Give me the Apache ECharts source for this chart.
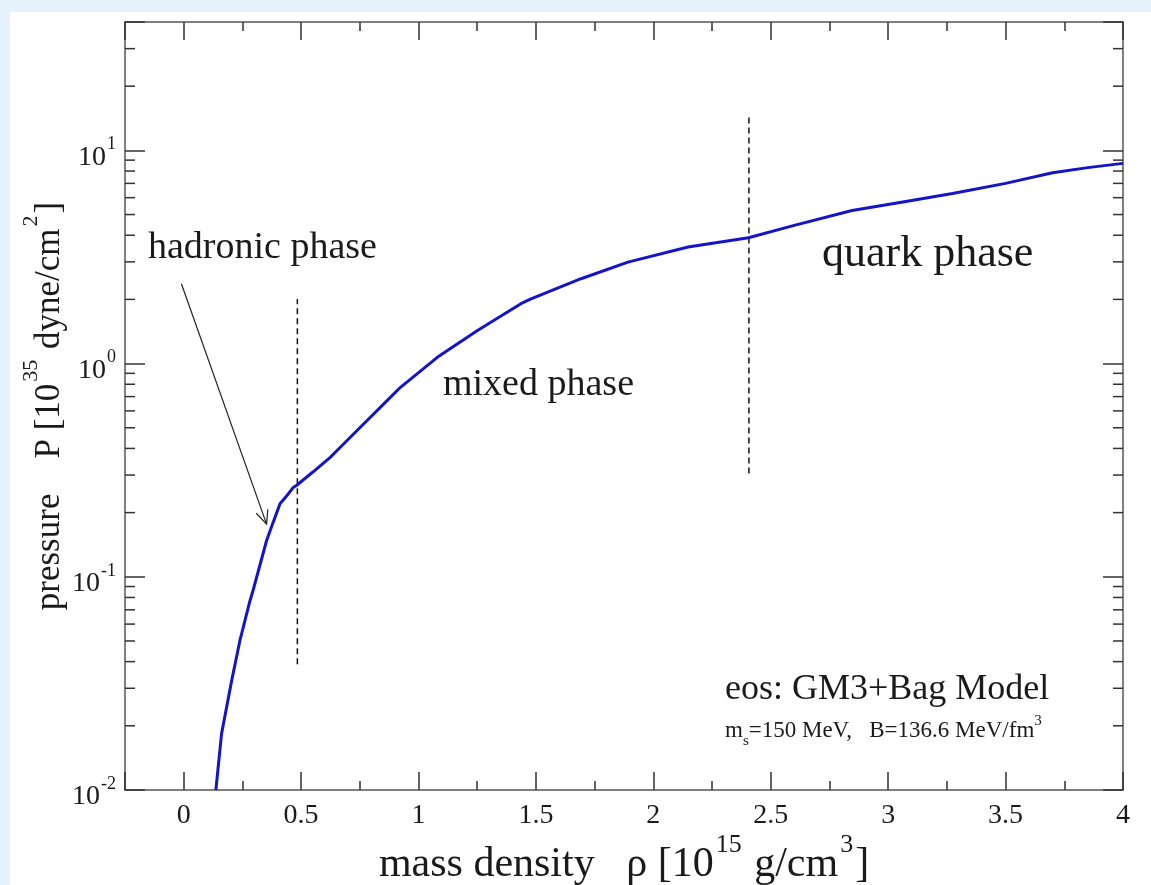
<!DOCTYPE html>
<html>
<head>
<meta charset="utf-8">
<title>pressure vs mass density</title>
<style>
  html, body { margin: 0; padding: 0; background: #fff; }
  #chart { width: 1151px; height: 885px; }
</style>
<script src="https://cdn.jsdelivr.net/npm/echarts@6/dist/echarts.min.js"></script>
</head>
<body>
<div id="chart"></div>
<script>
// 曲线数据 (rho in 1e15 g/cm^3, P in 1e35 dyne/cm^2)
const density = [0.137, 0.161, 0.204, 0.239, 0.282, 0.295, 0.353, 0.381, 0.41, 0.439, 0.466, 0.48,
  0.55, 0.624, 0.652, 0.75, 0.866, 0.923, 1.08, 1.251, 1.436, 1.479, 1.692, 1.892, 2.148, 2.405,
  2.6, 2.846, 3.05, 3.274, 3.5, 3.7, 3.85, 4.0];
const pressure = [0.01, 0.0183, 0.0325, 0.05, 0.077, 0.086, 0.148, 0.18, 0.22, 0.24, 0.262, 0.268,
  0.31, 0.363, 0.39, 0.5, 0.67, 0.774, 1.07, 1.43, 1.91, 2.01, 2.5, 2.99, 3.52, 3.89,
  4.45, 5.22, 5.7, 6.27, 7.0, 7.85, 8.3, 8.69];

// 相边界 (dashed)
const hadronMixedBoundary = [[0.484, 0.0389], [0.484, 2.01]];
const mixedQuarkBoundary = [[2.407, 0.305], [2.407, 14.3]];

// 箭头: start x, start y, end x, end y
const arrowLine = [[-0.0098, 2.37, 0.353, 0.1766]];

// 坐标轴
const X_MIN = -0.25, X_MAX = 4;
const Y_MIN = 0.01, Y_MAX = 40;
const minorYTicks = [0.02, 0.03, 0.04, 0.05, 0.06, 0.07, 0.08, 0.09,
  0.2, 0.3, 0.4, 0.5, 0.6, 0.7, 0.8, 0.9,
  2, 3, 4, 5, 6, 7, 8, 9, 20, 30];

const FONT = '"Liberation Serif", "DejaVu Serif", serif';
const INK = '#1a1a1a';
const AXIS = '#555';

const chart = echarts.init(document.getElementById('chart'), null, { renderer: 'canvas' });

function powerLabel(v) {
  const e = Math.round(Math.log10(v));
  if (Math.abs(Math.log10(v) - e) > 1e-6) return '';
  return '{b|10}{s|' + e + '}';
}

const yLabelRich = {
  b: { fontFamily: FONT, fontSize: 28, color: INK, verticalAlign: 'bottom', padding: [14, 0, 0, 0] },
  s: { fontFamily: FONT, fontSize: 18, color: INK, verticalAlign: 'top', padding: [6, 0, 0, 1] }
};

const baseX = {
  type: 'value', min: X_MIN, max: X_MAX, splitNumber: 8,
  axisLine: { onZero: false, lineStyle: { color: AXIS, width: 1.5 } },
  axisTick: { inside: true, length: 18, lineStyle: { color: '#333', width: 1.5 } },
  minorTick: { show: true, splitNumber: 2, length: 9, lineStyle: { color: '#333', width: 1.5 } },
  splitLine: { show: false }
};
const baseY = {
  type: 'log', min: Y_MIN, max: Y_MAX, logBase: 10,
  axisLine: { onZero: false, lineStyle: { color: AXIS, width: 1.5 } },
  axisTick: { inside: true, length: 20, lineStyle: { color: '#333', width: 1.5 } },
  splitLine: { show: false }
};

function tickMarks(params, api) {
  const p = api.coord([api.value(0), api.value(1)]);
  const cs = params.coordSys;
  const st = { stroke: '#333', lineWidth: 1.5 };
  return {
    type: 'group',
    children: [
      { type: 'line', shape: { x1: cs.x, y1: p[1], x2: cs.x + 10, y2: p[1] }, style: st },
      { type: 'line', shape: { x1: cs.x + cs.width, y1: p[1], x2: cs.x + cs.width - 10, y2: p[1] }, style: st }
    ]
  };
}

function arrow(params, api) {
  const a = api.coord([api.value(0), api.value(1)]);
  const b = api.coord([api.value(2), api.value(3)]);
  const ang = Math.atan2(b[1] - a[1], b[0] - a[0]);
  const L = 15, w = 0.42;
  const h1 = [b[0] - L * Math.cos(ang - w), b[1] - L * Math.sin(ang - w)];
  const h2 = [b[0] - L * Math.cos(ang + w), b[1] - L * Math.sin(ang + w)];
  const st = { stroke: '#222', lineWidth: 1.2, fill: null };
  return {
    type: 'group',
    children: [
      { type: 'line', shape: { x1: a[0], y1: a[1], x2: b[0], y2: b[1] }, style: st },
      { type: 'polyline', shape: { points: [h1, b, h2] }, style: st }
    ]
  };
}

const bg = '#e6f2fb';
function label(x, y, text, size) {
  return {
    type: 'text', x: x, y: y, silent: true,
    style: { text: text, font: size + 'px ' + FONT, fill: INK, textAlign: 'left', textVerticalAlign: 'middle', align: 'left', verticalAlign: 'middle' }
  };
}

chart.setOption({
  animation: false,
  backgroundColor: '#fff',
  grid: { left: 125, right: 28, top: 22, bottom: 95, containLabel: false, outerBoundsMode: 'none' },
  xAxis: [
    Object.assign({}, baseX, {
      position: 'bottom',
      name: '{t|mass density   ρ [10}{s|15}{t| g/cm}{s|3}{t|]}',
      nameLocation: 'middle', nameGap: 42, nameMoveOverlap: false,
      nameTextStyle: {
        fontFamily: FONT, fontSize: 42, color: INK,
        rich: {
          t: { fontFamily: FONT, fontSize: 42, color: INK, verticalAlign: 'bottom', padding: [12, 0, 0, 0] },
          s: { fontFamily: FONT, fontSize: 26, color: INK, verticalAlign: 'top', padding: [0, 2, 0, 2] }
        }
      },
      axisLabel: {
        margin: 12, fontFamily: FONT, fontSize: 28, color: INK,
        formatter: v => (v < -0.01 ? '' : String(v))
      }
    }),
    Object.assign({}, baseX, { position: 'top', axisLabel: { show: false } })
  ],
  yAxis: [
    Object.assign({}, baseY, {
      position: 'left',
      name: '{t|pressure    P [10}{s|35}{t| dyne/cm}{s|2}{t|]}',
      nameLocation: 'middle', nameGap: 58, nameMoveOverlap: false,
      nameTextStyle: {
        fontFamily: FONT, fontSize: 35, color: INK,
        rich: {
          t: { fontFamily: FONT, fontSize: 35, color: INK, verticalAlign: 'bottom', padding: [12, 0, 0, 0] },
          s: { fontFamily: FONT, fontSize: 22, color: INK, verticalAlign: 'top', padding: [0, 2, 0, 2] }
        }
      },
      axisLabel: { margin: 9, formatter: powerLabel, rich: yLabelRich }
    }),
    Object.assign({}, baseY, { position: 'right', axisLabel: { show: false } })
  ],
  graphic: [
    { type: 'rect', left: 0, top: 0, shape: { width: 1151, height: 12 }, style: { fill: bg }, silent: true },
    { type: 'rect', left: 0, top: 0, shape: { width: 10, height: 885 }, style: { fill: bg }, silent: true },
    label(148, 248, 'hadronic phase', 38),
    label(443, 385, 'mixed phase', 38),
    label(822, 254, 'quark phase', 44),
    label(725, 690, 'eos: GM3+Bag Model', 36),
    {
      type: 'text', x: 725, y: 731, silent: true,
      style: {
        text: '{t|m}{u|s}{t|=150 MeV,   B=136.6 MeV/fm}{p|3}',
        font: '23px ' + FONT, fill: INK, textVerticalAlign: 'middle', verticalAlign: 'middle',
        rich: {
          t: { fontFamily: FONT, fontSize: 23, color: INK, verticalAlign: 'middle', padding: [6, 0, 6, 0] },
          u: { fontFamily: FONT, fontSize: 15, color: INK, verticalAlign: 'bottom' },
          p: { fontFamily: FONT, fontSize: 15, color: INK, verticalAlign: 'top' }
        }
      }
    }
  ],
  series: [
    {
      name: 'EoS', type: 'line', xAxisIndex: 0, yAxisIndex: 0,
      data: density.map((x, i) => [x, pressure[i]]),
      showSymbol: false, symbol: 'none', smooth: false,
      lineStyle: { color: '#1414c8', width: 3 }, z: 5
    },
    {
      name: 'boundary1', type: 'line', data: hadronMixedBoundary, symbol: 'none',
      lineStyle: { color: '#111', width: 1.5, type: [6, 4] }
    },
    {
      name: 'boundary2', type: 'line', data: mixedQuarkBoundary, symbol: 'none',
      lineStyle: { color: '#111', width: 1.5, type: [6, 4] }
    },
    {
      name: 'arrow', type: 'custom', data: arrowLine, renderItem: arrow,
      encode: { x: [0, 2], y: [1, 3] }, silent: true, z: 6
    },
    {
      name: 'minorY', type: 'custom', renderItem: tickMarks, silent: true,
      data: minorYTicks.map(v => [X_MIN, v])
    }
  ]
});
</script>
</body>
</html>
